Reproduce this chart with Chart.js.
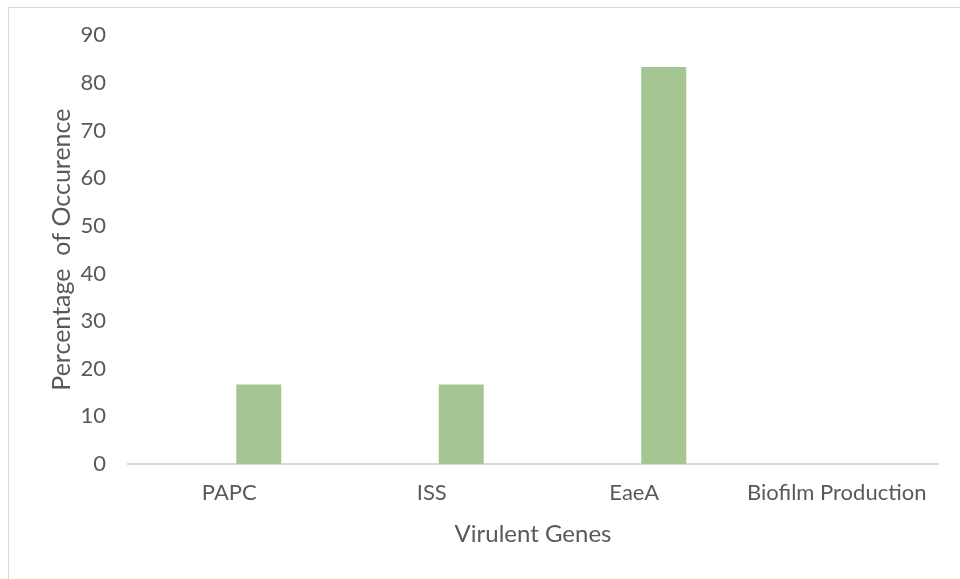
<!DOCTYPE html>
<html>
<head>
<meta charset="utf-8">
<script src="https://cdn.jsdelivr.net/npm/chart.js@4/dist/chart.umd.min.js"></script>
<style>
  html, body { margin: 0; padding: 0; background: #ffffff; overflow: hidden; }
  #frame { position: absolute; left: 8px; top: 7px; width: 1000px; height: 1000px; border: 1px solid #d9d9d9; box-sizing: border-box; }
  #wrap { position: absolute; left: 0; top: 0; width: 960px; height: 579px; }
</style>
</head>
<body>
<div id="frame"></div>
<div id="wrap"><canvas id="c" width="960" height="579"></canvas></div>
<script>
const categories = ["PAPC", "ISS", "EaeA", "Biofilm Production"];
const series1Values = [0, 0, 0, 0];
const series2Values = [16.67, 16.67, 83.33, 0];
const yTicks = [0, 10, 20, 30, 40, 50, 60, 70, 80, 90];
const xTitle = "Virulent Genes";
const yTitle = "Percentage  of Occurence";

const textColor = "#595959";
const fontFamily = "Lato, 'Open Sans', sans-serif";

new Chart(document.getElementById("c"), {
  type: "bar",
  data: {
    labels: categories,
    datasets: [
      { label: "Series1", data: series1Values, backgroundColor: "#5b9bd5", borderWidth: 0, categoryPercentage: 0.583, barPercentage: 0.763 },
      { label: "Series2", data: series2Values, backgroundColor: "#a5c693", borderWidth: 0, categoryPercentage: 0.583, barPercentage: 0.763 }
    ]
  },
  options: {
    responsive: false,
    animation: false,
    devicePixelRatio: 1,
    layout: { padding: { left: 47, top: 35, right: 22, bottom: 30 } },
    plugins: { legend: { display: false }, tooltip: { enabled: false } },
    scales: {
      x: {
        grid: { display: false, drawTicks: false },
        border: { display: true, color: "#d9d9d9", width: 2 },
        ticks: { color: textColor, font: { family: fontFamily, size: 22 }, padding: 16, maxRotation: 0, autoSkip: false },
        title: { display: true, text: xTitle, color: textColor, font: { family: fontFamily, size: 24 }, padding: 0 },
        afterFit: (s) => { s.height = 85; }
      },
      y: {
        min: 0, max: 90,
        afterBuildTicks: (s) => { s.ticks = yTicks.map(v => ({ value: v })); },
        grid: { display: false, drawTicks: false },
        border: { display: false },
        ticks: { color: textColor, font: { family: fontFamily, size: 22 }, padding: 22 },
        title: { display: true, text: yTitle, color: textColor, font: { family: fontFamily, size: 25 }, padding: 0 },
        afterFit: (s) => { s.width = 81; }
      }
    }
  }
});
</script>
</body>
</html>
